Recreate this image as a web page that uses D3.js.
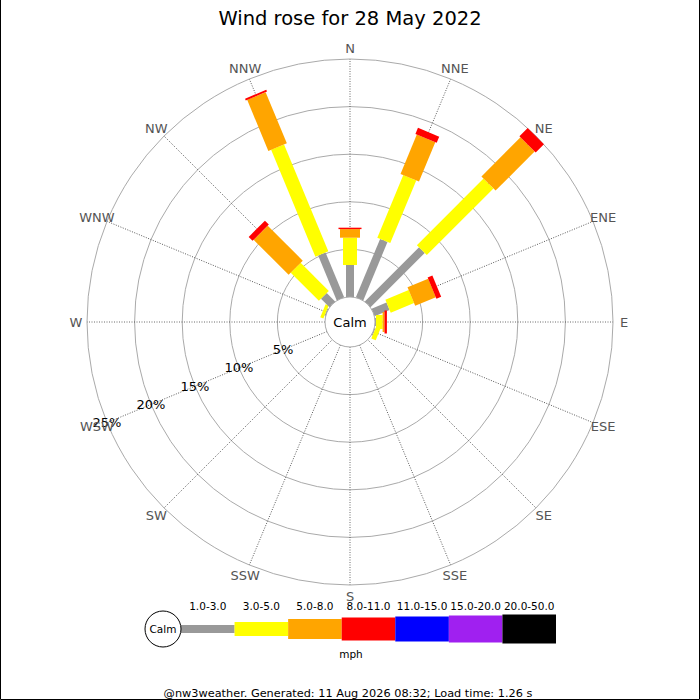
<!DOCTYPE html>
<html lang="en">
  <head>
    <meta charset="utf-8" />
    <title>Wind rose for 28 May 2022</title>
    <script src="https://d3js.org/d3.v7.min.js"></script>
    <style>
      body {
        margin: 0;
        font-family: "DejaVu Sans", sans-serif;
      }
      svg text {
        font-family: "DejaVu Sans", sans-serif;
      }
    </style>
  </head>
  <body>
    <svg id="rose"></svg>
    <script>
      // compass points, clockwise from north
      const directions = ["N", "NNE", "NE", "ENE", "E", "ESE", "SE", "SSE", "S", "SSW", "SW", "WSW", "W", "WNW", "NW", "NNW"];

      // speed classes (mph)
      const speedBands = ["1.0-3.0", "3.0-5.0", "5.0-8.0", "8.0-11.0", "11.0-15.0", "15.0-20.0", "20.0-50.0"];
      const bandColours = ["#999999", "#ffff00", "#ffa500", "#ff0000", "#0000ff", "#a020f0", "#000000"];

      // % of time per direction, one array per speed class
      const band1to3 = [3.36, 6.65, 8.05, 1.7, 0.1, 0.1, 0, 0, 0, 0, 0, 0, 0, 0.1, 1.26, 5.1];
      const band3to5 = [2.87, 7.13, 9.9, 2.65, 0.7, 0.5, 0, 0, 0, 0, 0, 0, 0, 0.35, 4.18, 12.15];
      const band5to8 = [0.9, 4.47, 5.8, 2.35, 0.2, 0, 0, 0, 0, 0, 0, 0, 0, 0, 5.2, 5.82];
      const band8to11 = [0.15, 0.7, 1.23, 0.54, 0.25, 0, 0, 0, 0, 0, 0, 0, 0, 0, 0.58, 0.2];
      const band11to15 = [0, 0, 0, 0, 0, 0, 0, 0, 0, 0, 0, 0, 0, 0, 0, 0];
      const band15to20 = [0, 0, 0, 0, 0, 0, 0, 0, 0, 0, 0, 0, 0, 0, 0, 0];
      const band20to50 = [0, 0, 0, 0, 0, 0, 0, 0, 0, 0, 0, 0, 0, 0, 0, 0];

      const ringTicks = [5, 10, 15, 20, 25];

      const title = "Wind rose for 28 May 2022";
      const footer = "@nw3weather. Generated: 11 Aug 2026 08:32; Load time: 1.26 s";

      const bands = [band1to3, band3to5, band5to8, band8to11, band11to15, band15to20, band20to50];

      const width = 700;
      const height = 700;
      const cx = 350;
      const cy = 322;
      const calmRadius = 25;
      const outerRadius = 263;
      const barWidths = [8, 14, 20, 23, 25, 27, 29];

      const svg = d3.select("#rose").attr("width", width).attr("height", height);

      svg.append("rect").attr("width", width).attr("height", height).attr("fill", "#fff");

      // frame: left, right and bottom edges
      svg
        .append("path")
        .attr("d", `M0.5,0 V${height - 0.5} H${width - 0.5} V0`)
        .attr("fill", "none")
        .attr("stroke", "#000");

      svg
        .append("text")
        .attr("x", cx)
        .attr("y", 25)
        .attr("text-anchor", "middle")
        .attr("font-size", 19.5)
        .text(title);

      const rscale = d3.scaleLinear().domain([0, 25]).range([calmRadius, outerRadius]);
      const ascale = d3
        .scaleBand()
        .domain(directions)
        .range([0, 360])
        .align(0);
      const angleOf = (d) => ascale(d); // degrees, clockwise from north

      const g = svg.append("g").attr("transform", `translate(${cx},${cy})`);

      // rings
      g.selectAll("circle.ring")
        .data(ringTicks)
        .join("circle")
        .attr("class", "ring")
        .attr("r", (d) => rscale(d))
        .attr("fill", "none")
        .attr("stroke", "#aaa");

      // spokes
      g.selectAll("line.spoke")
        .data(directions)
        .join("line")
        .attr("class", "spoke")
        .attr("transform", (d) => `rotate(${angleOf(d)})`)
        .attr("y1", 0)
        .attr("y2", -outerRadius)
        .attr("stroke", "#444")
        .attr("stroke-width", 0.8)
        .attr("stroke-dasharray", "1,1.5");

      // stacked bars
      const stacked = directions.map((dir, i) => {
        let acc = 0;
        return bands.map((band, b) => {
          const start = acc;
          acc += band[i];
          return { dir, band: b, start, end: acc };
        });
      });

      const barGroups = g
        .selectAll("g.dir")
        .data(stacked)
        .join("g")
        .attr("class", "dir")
        .attr("transform", (d) => `rotate(${angleOf(d[0].dir)})`);

      barGroups
        .selectAll("rect")
        .data((d) => d.filter((s) => s.end > s.start))
        .join("rect")
        .attr("x", (d) => -barWidths[d.band] / 2)
        .attr("width", (d) => barWidths[d.band])
        .attr("y", (d) => -rscale(d.end))
        .attr("height", (d) => rscale(d.end) - rscale(d.start))
        .attr("fill", (d) => bandColours[d.band]);

      // calm circle
      g.append("circle").attr("r", calmRadius).attr("fill", "#fff").attr("stroke", "#aaa");
      g.append("text")
        .attr("text-anchor", "middle")
        .attr("dominant-baseline", "central")
        .attr("font-size", 13)
        .text("Calm");

      // ring labels along WSW
      const labelAngle = (angleOf("WSW") * Math.PI) / 180;
      g.selectAll("text.ringlabel")
        .data(ringTicks)
        .join("text")
        .attr("class", "ringlabel")
        .attr("x", (d) => rscale(d) * Math.sin(labelAngle))
        .attr("y", (d) => -rscale(d) * Math.cos(labelAngle))
        .attr("text-anchor", "middle")
        .attr("dominant-baseline", "central")
        .attr("font-size", 13)
        .text((d) => `${d}%`);

      // compass labels
      g.selectAll("text.compass")
        .data(directions)
        .join("text")
        .attr("class", "compass")
        .attr("x", (d) => 274 * Math.sin((angleOf(d) * Math.PI) / 180))
        .attr("y", (d) => -274 * Math.cos((angleOf(d) * Math.PI) / 180))
        .attr("text-anchor", "middle")
        .attr("dominant-baseline", "central")
        .attr("font-size", 13)
        .attr("fill", "#555")
        .text((d) => d);

      // legend
      const legendY = 629;
      const lscale = d3
        .scaleBand()
        .domain(speedBands)
        .range([181, 556]);

      const legend = svg.append("g");
      legend
        .selectAll("rect")
        .data(speedBands)
        .join("rect")
        .attr("x", (d) => lscale(d))
        .attr("width", lscale.bandwidth())
        .attr("y", (d, i) => legendY - barWidths[i] / 2)
        .attr("height", (d, i) => barWidths[i])
        .attr("fill", (d, i) => bandColours[i]);

      legend
        .selectAll("text.band")
        .data(speedBands)
        .join("text")
        .attr("class", "band")
        .attr("x", (d) => lscale(d) + lscale.bandwidth() / 2)
        .attr("y", 610)
        .attr("text-anchor", "middle")
        .attr("font-size", 10.5)
        .text((d) => d);

      legend
        .append("circle")
        .attr("cx", 163)
        .attr("cy", legendY)
        .attr("r", 18)
        .attr("fill", "#fff")
        .attr("stroke", "#000");
      legend
        .append("text")
        .attr("x", 163)
        .attr("y", legendY)
        .attr("text-anchor", "middle")
        .attr("dominant-baseline", "central")
        .attr("font-size", 10.5)
        .text("Calm");

      legend
        .append("text")
        .attr("x", 351)
        .attr("y", 658)
        .attr("text-anchor", "middle")
        .attr("font-size", 10.5)
        .text("mph");

      svg
        .append("text")
        .attr("x", 348)
        .attr("y", 697)
        .attr("text-anchor", "middle")
        .attr("font-size", 11.3)
        .text(footer);
    </script>
  </body>
</html>
